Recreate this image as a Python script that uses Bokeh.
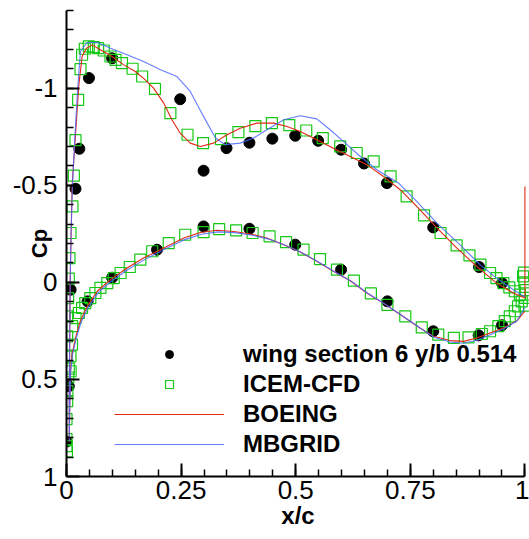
from bokeh.plotting import figure
from bokeh.models import (ColumnDataSource, FixedTicker, CustomJSTickFormatter,
                          Legend, LegendItem, Range1d)
from bokeh.embed import file_html
from bokeh.resources import INLINE

# ---- wing section 6, y/b = 0.514 : pressure coefficient vs x/c ----

# Experiment, upper surface
exp_upper_x = [0.009, 0.0196, 0.028, 0.049, 0.0995, 0.248, 0.299, 0.349, 0.399,
               0.449, 0.499, 0.549, 0.599, 0.649, 0.699, 0.800, 0.900, 0.950]
exp_upper_cp = [0.038, -0.482, -0.688, -1.052, -1.154, -0.943, -0.575, -0.691, -0.719,
                -0.740, -0.755, -0.729, -0.683, -0.612, -0.511, -0.283, -0.079, 0.004]
# Experiment, lower surface
exp_lower_x = [0.000, 0.005, 0.046, 0.0995, 0.1975, 0.299, 0.399, 0.499, 0.599,
               0.700, 0.800, 0.899, 0.950]
exp_lower_cp = [0.820, 0.535, 0.098, -0.024, -0.168, -0.288, -0.276, -0.194, -0.065,
                0.098, 0.252, 0.273, 0.221]

# ICEM-CFD, upper surface (stagnation region to trailing edge)
icem_upper_x = [0.001, 0.000, 0.000, 0.000, 0.0015, 0.002, 0.004, 0.000, 0.0015, 0.0015,
                0.0036, 0.005, 0.0065, 0.0087, 0.013, 0.016, 0.0196, 0.0254, 0.0305,
                0.034, 0.040, 0.0486, 0.0595, 0.069, 0.0813, 0.0959, 0.107, 0.121,
                0.1441, 0.165, 0.193, 0.2266, 0.264, 0.298, 0.337, 0.375, 0.412,
                0.448, 0.486, 0.523, 0.559, 0.597, 0.633, 0.670, 0.707, 0.742,
                0.780, 0.816, 0.851, 0.879, 0.903, 0.924, 0.938, 0.953, 0.966,
                0.978, 0.989, 0.996]
icem_upper_cp = [0.870, 0.844, 0.808, 0.705, 0.612, 0.560, 0.490, 0.380, 0.278, 0.175,
                 0.081, -0.019, -0.125, -0.254, -0.391, -0.550, -0.732, -0.940, -1.098,
                 -1.172, -1.203, -1.215, -1.211, -1.206, -1.194, -1.163, -1.146, -1.129,
                 -1.100, -1.060, -0.996, -0.871, -0.760, -0.717, -0.738, -0.774, -0.805,
                 -0.820, -0.810, -0.782, -0.743, -0.700, -0.666, -0.623, -0.546, -0.443,
                 -0.345, -0.254, -0.190, -0.139, -0.091, -0.048, -0.022, 0.004, 0.026,
                 0.046, 0.063, -0.031]
# ICEM-CFD, trailing-edge cluster
icem_te_x = [0.998, 0.999, 1.000, 1.000, 0.999]
icem_te_cp = [-0.050, 0.000, 0.040, 0.080, 0.120]
# ICEM-CFD, lower surface
icem_lower_x = [0.009, 0.005, 0.0087, 0.012, 0.0124, 0.0196, 0.027, 0.034, 0.041, 0.052,
                0.063, 0.074, 0.089, 0.103, 0.118, 0.138, 0.161, 0.187, 0.223, 0.259,
                0.299, 0.333, 0.370, 0.406, 0.443, 0.479, 0.517, 0.553, 0.590, 0.627,
                0.664, 0.700, 0.739, 0.775, 0.811, 0.845, 0.877, 0.906, 0.924, 0.942,
                0.956, 0.967, 0.978, 0.985, 0.993]
icem_lower_cp = [0.458, 0.444, 0.381, 0.321, 0.226, 0.184, 0.158, 0.132, 0.107, 0.081,
                 0.055, 0.029, 0.004, -0.022, -0.048, -0.079, -0.117, -0.160, -0.202, -0.245,
                 -0.259, -0.274, -0.268, -0.254, -0.237, -0.207, -0.168, -0.120, -0.065, -0.009,
                 0.057, 0.116, 0.175, 0.232, 0.269, 0.286, 0.283, 0.266, 0.252, 0.226,
                 0.200, 0.175, 0.149, 0.124, 0.098]

# BOEING, lower surface from trailing edge to stagnation point
boeing_lower_x = [1.000, 0.982, 0.953, 0.924, 0.895, 0.866, 0.837, 0.800, 0.771, 0.728,
                  0.691, 0.655, 0.619, 0.582, 0.546, 0.510, 0.474, 0.437, 0.401, 0.365,
                  0.328, 0.292, 0.256, 0.212, 0.168, 0.132, 0.096, 0.067, 0.045, 0.030,
                  0.0196, 0.012, 0.0087, 0.007, 0.006]
boeing_lower_cp = [0.149, 0.200, 0.235, 0.261, 0.287, 0.304, 0.300, 0.278, 0.235, 0.166,
                   0.107, 0.055, -0.008, -0.057, -0.108, -0.156, -0.194, -0.228, -0.249, -0.262,
                   -0.268, -0.257, -0.228, -0.177, -0.125, -0.074, -0.014, 0.046, 0.124, 0.200,
                   0.287, 0.372, 0.458, 0.650, 0.820]
# BOEING, upper surface from stagnation point to trailing edge
boeing_upper_x = [0.006, 0.007, 0.008, 0.010, 0.0124, 0.0196, 0.027, 0.034, 0.0436, 0.056,
                  0.074, 0.0995, 0.125, 0.150, 0.172, 0.190, 0.212, 0.230, 0.248, 0.270,
                  0.292, 0.321, 0.350, 0.379, 0.415, 0.452, 0.481, 0.510, 0.546, 0.582,
                  0.619, 0.655, 0.691, 0.728, 0.764, 0.808, 0.851, 0.895, 0.938, 0.975,
                  1.000, 1.000]
boeing_upper_cp = [0.600, 0.300, 0.000, -0.250, -0.500, -0.760, -1.017, -1.163, -1.206, -1.223,
                   -1.198, -1.163, -1.120, -1.086, -1.043, -1.000, -0.923, -0.837, -0.768, -0.717,
                   -0.700, -0.717, -0.760, -0.794, -0.820, -0.820, -0.803, -0.777, -0.734, -0.691,
                   -0.648, -0.606, -0.546, -0.477, -0.391, -0.280, -0.177, -0.082, 0.004, 0.055,
                   0.081, -0.494]

# MBGRID, lower surface from trailing edge to stagnation point
mbgrid_lower_x = [1.000, 0.982, 0.953, 0.924, 0.895, 0.866, 0.837, 0.802, 0.773, 0.730,
                  0.693, 0.657, 0.621, 0.584, 0.548, 0.512, 0.476, 0.439, 0.403, 0.367,
                  0.330, 0.294, 0.258, 0.214, 0.170, 0.134, 0.098, 0.069, 0.047, 0.032,
                  0.021, 0.013, 0.009, 0.007, 0.006]
mbgrid_lower_cp = [0.130, 0.200, 0.240, 0.270, 0.298, 0.314, 0.307, 0.283, 0.238, 0.168,
                   0.109, 0.056, -0.006, -0.056, -0.107, -0.155, -0.192, -0.224, -0.244, -0.256,
                   -0.260, -0.248, -0.220, -0.170, -0.117, -0.066, -0.007, 0.053, 0.130, 0.205,
                   0.290, 0.375, 0.460, 0.650, 0.820]
# MBGRID, upper surface from stagnation point to trailing edge
mbgrid_upper_x = [0.006, 0.007, 0.008, 0.010, 0.013, 0.019, 0.025, 0.0305, 0.045, 0.067,
                  0.096, 0.132, 0.168, 0.205, 0.241, 0.270, 0.292, 0.307, 0.325, 0.346,
                  0.379, 0.408, 0.437, 0.474, 0.510, 0.546, 0.575, 0.604, 0.641, 0.677,
                  0.724, 0.764, 0.808, 0.858, 0.902, 0.938, 0.975, 1.000]
mbgrid_upper_cp = [0.600, 0.300, 0.000, -0.250, -0.500, -0.780, -1.020, -1.190, -1.235, -1.235,
                   -1.206, -1.172, -1.137, -1.095, -1.060, -0.983, -0.885, -0.820, -0.743, -0.709,
                   -0.717, -0.743, -0.786, -0.837, -0.858, -0.842, -0.786, -0.726, -0.648, -0.580,
                   -0.512, -0.417, -0.305, -0.194, -0.091, -0.022, 0.038, 0.075]

x_major = [0, 0.25, 0.5, 0.75, 1]
y_major = [-1, -0.5, 0, 0.5, 1]

FONT = "Liberation Sans"
RED = "#e02a14"
BLUE = "#4a66ff"
GREEN = "#14c814"

exp_src = ColumnDataSource(dict(x=exp_upper_x + exp_lower_x,
                                cp=exp_upper_cp + exp_lower_cp))
icem_src = ColumnDataSource(dict(x=icem_upper_x + icem_te_x + icem_lower_x,
                                 cp=icem_upper_cp + icem_te_cp + icem_lower_cp))
boeing_src = ColumnDataSource(dict(x=boeing_lower_x + boeing_upper_x,
                                   cp=boeing_lower_cp + boeing_upper_cp))
mbgrid_src = ColumnDataSource(dict(x=mbgrid_lower_x + mbgrid_upper_x,
                                   cp=mbgrid_lower_cp + mbgrid_upper_cp))

p = figure(width=529, height=539, output_backend="svg", toolbar_location=None,
           x_range=Range1d(0, 1.01), y_range=Range1d(1.0, -1.4),
           min_border_left=66, min_border_right=0, min_border_top=10,
           min_border_bottom=63)
p.background_fill_color = "white"
p.border_fill_color = "white"
p.outline_line_color = None
p.xgrid.visible = False
p.ygrid.visible = False

r_exp = p.scatter("x", "cp", source=exp_src, marker="circle", size=11,
                  fill_color="black", line_color="black")
r_icem = p.scatter("x", "cp", source=icem_src, marker="square", size=11,
                   fill_color=None, line_color=GREEN, line_width=1.2)
r_boeing = p.line("x", "cp", source=boeing_src, line_color=RED, line_width=1.1)
r_mbgrid = p.line("x", "cp", source=mbgrid_src, line_color=BLUE, line_width=1.1,
                  line_alpha=0.85)

fmt = CustomJSTickFormatter(code="return String(tick);")

xa = p.xaxis[0]
xa.bounds = (0, 1)
xa.ticker = FixedTicker(ticks=x_major, minor_ticks=[i * 0.05 for i in range(21)])
ya = p.yaxis[0]
ya.bounds = (-1.4, 1.0)
ya.ticker = FixedTicker(ticks=y_major, minor_ticks=[-1.4 + i * 0.1 for i in range(25)])

for ax in (xa, ya):
    ax.formatter = fmt
    ax.axis_line_width = 2
    ax.axis_line_color = "black"
    ax.major_tick_in = 13
    ax.major_tick_out = 0
    ax.minor_tick_in = 7
    ax.minor_tick_out = 0
    ax.major_tick_line_width = 2
    ax.minor_tick_line_width = 1.5
    ax.major_tick_line_color = "black"
    ax.minor_tick_line_color = "black"
    ax.major_label_text_font = FONT
    ax.major_label_text_font_size = "26px"
    ax.major_label_text_color = "black"
    ax.axis_label_text_font = FONT
    ax.axis_label_text_font_style = "bold"
    ax.axis_label_text_color = "black"
xa.major_label_standoff = 4
ya.major_label_standoff = 9

xa.axis_label = "x/c"
xa.axis_label_text_font_size = "24px"
xa.axis_label_standoff = 0
ya.axis_label = "Cp"
ya.axis_label_text_font_size = "22px"
ya.axis_label_standoff = -42

legend = Legend(items=[
    LegendItem(label="wing section 6 y/b 0.514", renderers=[r_exp]),
    LegendItem(label="ICEM-CFD", renderers=[r_icem]),
    LegendItem(label="BOEING", renderers=[r_boeing]),
    LegendItem(label="MBGRID", renderers=[r_mbgrid]),
], location=(48, 18), glyph_width=110, glyph_height=20, label_height=20,
   label_standoff=19, spacing=2, padding=0, margin=0,
   label_text_font=FONT, label_text_font_size="24px", label_text_font_style="bold",
   label_text_color="black", border_line_color=None, background_fill_alpha=0)
p.add_layout(legend)

open("out.html", "w").write(file_html(p, INLINE))
